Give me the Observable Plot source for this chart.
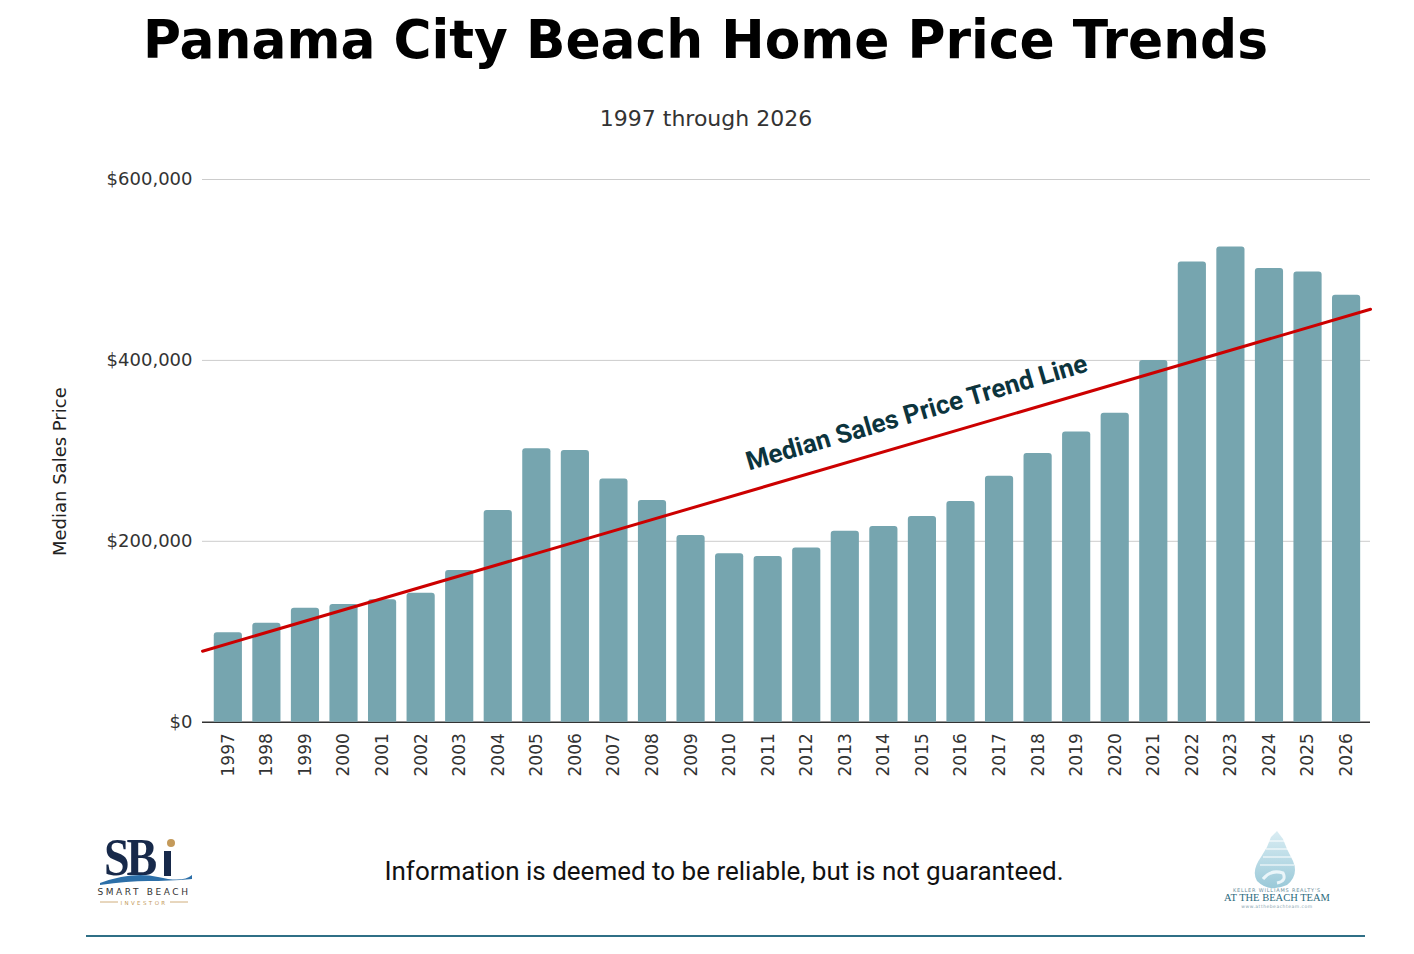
<!DOCTYPE html>
<html>
<head>
<meta charset="utf-8">
<script src="https://cdn.jsdelivr.net/npm/d3@7"></script>
<script src="https://cdn.jsdelivr.net/npm/@observablehq/plot@0.6"></script>
<style>
  html, body { margin: 0; padding: 0; background: #fff; }
  #page { position: relative; width: 1414px; height: 954px; overflow: hidden; background: #fff; }
  #header { position: absolute; left: 0; top: 0; }
  #chart { position: absolute; left: 0; top: 150px; }
  #note { position: absolute; left: 0; top: 856px; width: 1448px; text-align: center;
          font-family: Roboto, sans-serif; font-size: 26px; color: #111; }
  #rule { position: absolute; left: 86px; top: 935px; width: 1279px; height: 2px; background: #2f6f86; }
  #logoL { position: absolute; left: 88px; top: 825px; }
  #logoR { position: absolute; left: 1215px; top: 825px; }
</style>
</head>
<body>
<div id="page">
  <svg id="header" width="1414" height="150">
    <text x="705.5" y="58" text-anchor="middle" textLength="1125" lengthAdjust="spacingAndGlyphs"
          font-family="DejaVu Sans" font-weight="bold" font-size="54" fill="#000">Panama City Beach Home Price Trends</text>
    <text x="706" y="126" text-anchor="middle" font-family="DejaVu Sans" font-size="22" fill="#333">1997 through 2026</text>
  </svg>
  <div id="chart"></div>
  <div id="note">Information is deemed to be reliable, but is not guaranteed.</div>
  <div id="rule"></div>
  <svg id="logoL" width="120" height="90">
    <text x="16" y="50" font-family="Liberation Serif, DejaVu Serif, serif" font-weight="bold" font-size="46" fill="#17294a" letter-spacing="-3" transform="translate(0,-8) scale(1,1.16)">SB</text>
    <rect x="76" y="26" width="7" height="25" fill="#17294a"/>
    <circle cx="83" cy="18" r="4" fill="#c49a5a"/>
    <path d="M12,58 Q45,46 70,52 T104,50 L104,54 Q80,56 60,56 T12,60 Z" fill="#2c6fa8"/>
    <text x="56" y="70" text-anchor="middle" font-family="DejaVu Sans" font-size="9" letter-spacing="2.6" fill="#333">SMART BEACH</text>
    <line x1="12" y1="77" x2="30" y2="77" stroke="#c49a5a" stroke-width="0.8"/>
    <line x1="82" y1="77" x2="100" y2="77" stroke="#c49a5a" stroke-width="0.8"/>
    <text x="56" y="79.5" text-anchor="middle" font-family="DejaVu Sans" font-size="5.5" letter-spacing="2.4" fill="#c49a5a">INVESTOR</text>
  </svg>
  <svg id="logoR" width="130" height="90">
    <defs>
      <linearGradient id="sg" x1="0" y1="0" x2="0" y2="1">
        <stop offset="0" stop-color="#d6ebf2"/>
        <stop offset="1" stop-color="#8fc3d4"/>
      </linearGradient>
    </defs>
    <path d="M62,6 L56,12 L52,22 L46,32 Q36,46 42,56 Q54,68 72,60 Q84,50 78,36 L72,24 L68,14 Z" fill="url(#sg)" opacity="0.9"/>
    <path d="M54,16 L70,16 M51,24 L73,24 M48,32 L76,32 M45,40 L79,40" stroke="#fff" stroke-width="1.2"/>
    <path d="M48,54 Q56,44 68,48 Q72,56 62,58" fill="none" stroke="#eaf5f9" stroke-width="3"/>
    <text x="62" y="67" text-anchor="middle" font-family="DejaVu Sans" font-size="5" letter-spacing="0.8" fill="#6b8e9a">KELLER WILLIAMS REALTY'S</text>
    <text x="62" y="76" text-anchor="middle" font-family="Liberation Serif, DejaVu Serif, serif" font-size="10.5" fill="#2b6a7c">AT THE BEACH TEAM</text>
    <text x="62" y="82.5" text-anchor="middle" font-family="DejaVu Sans" font-size="4.5" letter-spacing="0.5" fill="#8aa6b0">www.atthebeachteam.com</text>
  </svg>
</div>
<script>
const years = [1997,1998,1999,2000,2001,2002,2003,2004,2005,2006,2007,2008,2009,2010,2011,2012,2013,2014,2015,2016,2017,2018,2019,2020,2021,2022,2023,2024,2025,2026];
const medianPrices = [99000,109500,126000,130000,135500,142700,167800,234000,302400,300500,269000,245000,206500,186300,183300,192500,211000,216500,227500,244000,271800,297000,320800,341500,400000,508800,525400,501500,497800,472000];
const trendYears = [1996.33, 2026.62];
const trendPrices = [78500, 456500];
const yTicks = [0, 200000, 400000, 600000];
const trendLabel = "Median Sales Price Trend Line";
const trendLabelYear = 2014.85;
const trendLabelPrice = 342000;
const yLabel = "Median Sales Price";

const bars = years.map((year, i) => ({year, price: medianPrices[i]}));
const trend = trendYears.map((year, i) => ({year, price: trendPrices[i]}));
const fmt = d3.format(",");

const chart = Plot.plot({
  width: 1414,
  height: 650,
  marginLeft: 202,
  marginRight: 44,
  marginTop: 29,
  marginBottom: 78.3,
  x: {type: "linear", domain: [1996.33, 2026.62]},
  y: {domain: [0, 600000]},
  style: {fontFamily: "DejaVu Sans", color: "#333", background: "transparent", overflow: "visible"},
  marks: [
    Plot.gridY(yTicks.filter(d => d > 0), {stroke: "#cccccc", strokeOpacity: 1, strokeWidth: 1}),
    Plot.ruleY([0], {stroke: "#333", strokeWidth: 1.5}),
    Plot.rectY(bars, {x1: d => d.year - 0.5, x2: d => d.year + 0.5, y: "price", fill: "#76a5af", insetLeft: 5.2, insetRight: 5.2, ry2: 3}),
    Plot.line(trend, {x: "year", y: "price", stroke: "#cc0000", strokeWidth: 3}),
    Plot.text([trendLabel], {x: [trendLabelYear], y: [trendLabelPrice], text: d => d, rotate: -16.3,
      fontFamily: "Roboto", fontWeight: "bold", fontSize: 26, fill: "#0c343d", textAnchor: "middle", lineAnchor: "middle"}),
    Plot.axisY({ticks: yTicks, tickFormat: d => "$" + fmt(d), tickSize: 0, tickPadding: 10, fontSize: 18, label: null}),
    Plot.axisX({ticks: years, tickFormat: d => String(d), tickSize: 0, tickPadding: 11, tickRotate: -90, fontSize: 17, label: null}),
    Plot.text([yLabel], {frameAnchor: "left", y: [277000], text: d => d, rotate: -90, dx: -142, fontSize: 18, fill: "#222", textAnchor: "middle"})
  ]
});
document.getElementById("chart").appendChild(chart);
</script>
</body>
</html>
